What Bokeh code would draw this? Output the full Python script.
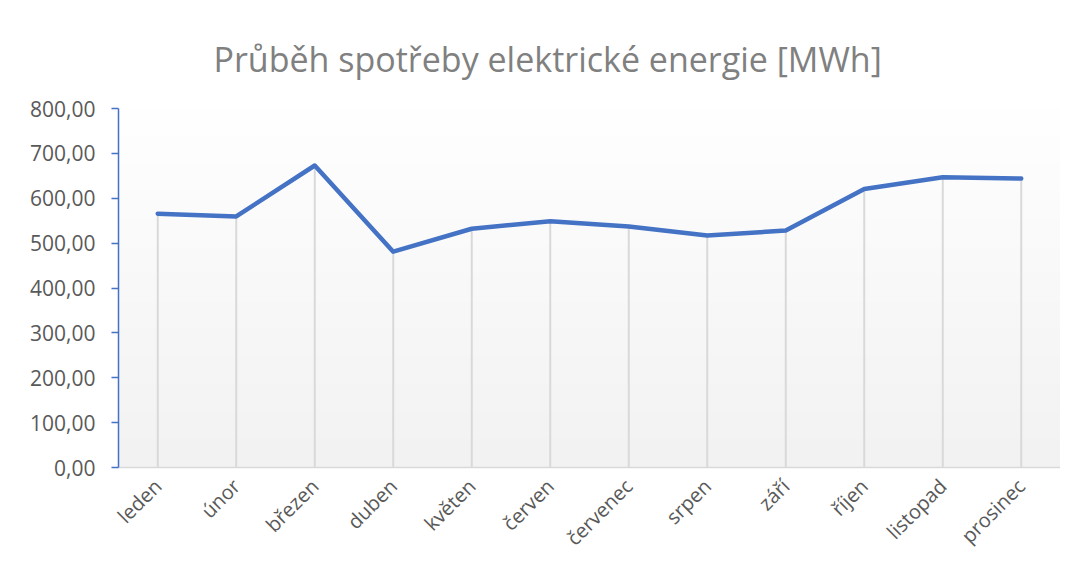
import numpy as np
from bokeh.plotting import figure
from bokeh.models import Title, FixedTicker, CustomJSTickFormatter
from bokeh.embed import file_html
from bokeh.resources import INLINE

months = ["leden", "únor", "březen", "duben", "květen", "červen",
          "červenec", "srpen", "září", "říjen", "listopad", "prosinec"]
consumption = [565.6, 559.6, 673.0, 481.0, 532.0, 549.0,
               537.0, 517.0, 528.0, 620.5, 647.0, 644.0]
y_ticks = [0, 100, 200, 300, 400, 500, 600, 700, 800]
title_text = "Průběh spotřeby elektrické energie [MWh]"

FONT = "Open Sans"
TXT = "#595959"

p = figure(x_range=months, y_range=(0, 800), width=1060, height=563,
           output_backend="svg", toolbar_location=None, title=None,
           min_border_left=118, min_border_right=0,
           min_border_top=108, min_border_bottom=96)
p.outline_line_color = None
p.background_fill_color = "white"
p.border_fill_color = "white"

t = Title(text=title_text, align="left", vertical_align="top", text_font=FONT,
          text_font_size="34px", text_font_style="normal",
          text_color="#808080", offset=95, standoff=50)
p.add_layout(t, "above")

# gradient background of the plot area (style only)
n = 256
g = np.linspace(0xf2, 0xff, n).astype(np.uint8)
img = np.zeros((n, 1), dtype=np.uint32)
view = img.view(dtype=np.uint8).reshape((n, 1, 4))
view[:, 0, 0] = g
view[:, 0, 1] = g
view[:, 0, 2] = g
view[:, 0, 3] = 255
p.image_rgba(image=[img], x=0, y=0, dw=len(months), dh=800)

# drop lines
p.segment(x0=months, y0=[0] * len(months), x1=months, y1=consumption,
          line_color="#d9d9d9", line_width=2)

p.line(months, consumption, line_color="#4472c4", line_width=4.5,
       line_join="round", line_cap="round")

p.xgrid.grid_line_color = None
p.ygrid.grid_line_color = None

p.yaxis.ticker = FixedTicker(ticks=y_ticks)
p.yaxis.formatter = CustomJSTickFormatter(code="return tick.toFixed(2).replace('.', ',');")
p.yaxis.axis_line_color = "#4472c4"
p.yaxis.axis_line_width = 1.5
p.yaxis.major_tick_line_color = "#4472c4"
p.yaxis.major_tick_line_width = 1.5
p.yaxis.major_tick_out = 7
p.yaxis.major_tick_in = 0
p.yaxis.minor_tick_line_color = None
p.yaxis.major_label_text_font = FONT
p.yaxis.major_label_text_font_size = "21px"
p.yaxis.major_label_text_color = TXT
p.yaxis.major_label_standoff = 16

p.xaxis.axis_line_color = "#d9d9d9"
p.xaxis.axis_line_width = 1.5
p.xaxis.major_tick_line_color = None
p.xaxis.minor_tick_line_color = None
p.xaxis.major_label_orientation = np.pi / 4
p.xaxis.major_label_text_font = FONT
p.xaxis.major_label_text_font_size = "20px"
p.xaxis.major_label_text_color = TXT
p.xaxis.major_label_standoff = 9

open("out.html", "w").write(file_html(p, INLINE))
